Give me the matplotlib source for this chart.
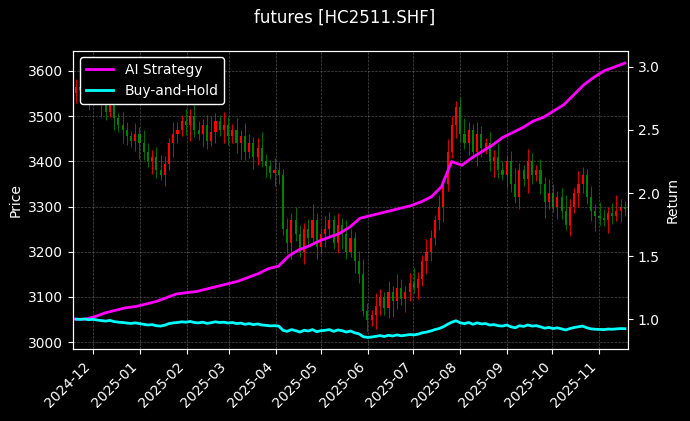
import matplotlib
matplotlib.use("Agg")
import matplotlib.pyplot as plt
import matplotlib.dates as mdates
import pandas as pd
import numpy as np

# daily-ish closes (every ~2 trading days)
closes = [3565, 3558, 3570, 3548, 3560,
          3540, 3525, 3510, 3530, 3495, 3480, 3470, 3455, 3445, 3460, 3440,
          3420, 3400, 3410, 3380, 3370, 3395, 3440, 3460, 3470, 3490, 3480,
          3500, 3470, 3460, 3480, 3445, 3465, 3490, 3470, 3480, 3455,
          3470, 3440, 3455, 3420, 3440, 3410, 3430, 3400, 3390, 3375, 3380,
          3370, 3250, 3220, 3270, 3240, 3200, 3250, 3230, 3270, 3210, 3240,
          3250, 3270, 3220, 3260, 3240, 3200, 3230, 3180, 3150, 3070, 3050,
          3060, 3080, 3100, 3075, 3110, 3090, 3120, 3095, 3110, 3130, 3120,
          3140, 3180, 3200, 3230, 3270, 3300, 3350, 3420, 3480, 3520, 3460, 3440,
          3470, 3420, 3460, 3430, 3440, 3400, 3410, 3380, 3370, 3400,
          3350, 3320, 3380, 3360, 3400, 3370, 3380, 3350, 3310, 3330, 3300,
          3320, 3290, 3260, 3300, 3330, 3350, 3370, 3320, 3290, 3280,
          3275, 3270, 3285, 3280, 3290, 3300, 3295]
opens = [3550] + closes[:-1]
wick = [18, 12, 25, 15, 30, 20, 14, 22, 35, 16, 12, 28]

# weekly AI strategy return
ai_return = [1.0, 1.0,
             1.02, 1.05, 1.07, 1.09, 1.1,
             1.12, 1.14, 1.17, 1.2, 1.21,
             1.22, 1.24, 1.26, 1.28,
             1.3, 1.33, 1.36, 1.4, 1.42,
             1.5, 1.55, 1.58, 1.62,
             1.65, 1.68, 1.73, 1.8,
             1.82, 1.84, 1.86, 1.88,
             1.9, 1.93, 1.97, 2.05, 2.25,
             2.22, 2.28, 2.33, 2.38,
             2.44, 2.48, 2.52, 2.57,
             2.6, 2.65, 2.7, 2.78, 2.86,
             2.92, 2.97, 3.0, 3.03]

start, end = "2024-11-20", "2025-11-18"
dates = pd.date_range(start, end, periods=len(closes))
ai_dates = pd.date_range("2024-11-19", end, periods=len(ai_return))
bh_return = np.array(closes) / closes[0]

plt.style.use("dark_background")
fig, ax = plt.subplots(figsize=(6.9, 4.21), dpi=100)
fig.patch.set_facecolor("black")
ax.set_facecolor("black")

xs = mdates.date2num(dates)
w = 1.4
for i, (x, o, c) in enumerate(zip(xs, opens, closes)):
    col = "red" if c >= o else "green"
    hi = max(o, c) + wick[i % len(wick)]
    lo = min(o, c) - wick[(i + 5) % len(wick)]
    ax.vlines(x, lo, hi, color=col, linewidth=0.6)
    ax.bar(x, abs(c - o) if c != o else 2, bottom=min(o, c), width=w, color=col)

ax.set_ylim(2984, 3645)
ax.set_ylabel("Price")
ax.grid(True, linestyle="--", linewidth=0.5, color="grey", alpha=0.6)

ax2 = ax.twinx()
ax2.plot(ai_dates, ai_return, color="magenta", linewidth=2, label="AI Strategy")
ax2.plot(dates, bh_return, color="cyan", linewidth=2, label="Buy-and-Hold")
ax2.set_ylim(0.76, 3.13)
ax2.set_ylabel("Return")
ax2.legend(loc="upper left", facecolor="black", edgecolor="white", framealpha=1)

ax.set_xlim(mdates.datestr2num("2024-11-18"), mdates.datestr2num("2025-11-20"))
ax.xaxis.set_major_locator(mdates.MonthLocator())
ax.xaxis.set_major_formatter(mdates.DateFormatter("%Y-%m"))
plt.setp(ax.get_xticklabels(), rotation=45, ha="right")

fig.suptitle("futures [HC2511.SHF]")
fig.subplots_adjust(left=0.106, right=0.91, top=0.88, bottom=0.17)
plt.savefig("out.png")
